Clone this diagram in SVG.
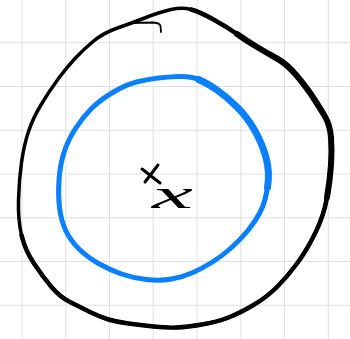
<svg xmlns="http://www.w3.org/2000/svg" width="350" height="339" viewBox="0 0 350 339">
<style>
.grid{stroke:#dfdfdf;stroke-width:1;fill:none}
.ink{fill:none;stroke:#000;stroke-linecap:round;stroke-linejoin:round}
.blue{fill:none;stroke:#0a80ff;stroke-linecap:round;stroke-linejoin:round}
</style>
<rect width="350" height="339" fill="#fff"/>
<g id="grid" class="grid">
<path d="M22,0V339M65.75,0V339M109.5,0V339M153.25,0V339M197,0V339M240.75,0V339M284.5,0V339M328.25,0V339"/>
<path d="M0,42.75H350M0,86.5H350M0,130.25H350M0,174H350M0,217.75H350M0,261.5H350M0,305.25H350"/>
</g>
<g id="outer-circle">
<path class="ink" stroke-width="3.5" d="M117.5,28 Q132,23 146,17.5 Q160,12 171,9.5 Q182,7 191,9.5 Q200,12 213.5,19.5 Q227,27 237,34 Q247,41 257,47 Q267,53 277,58.5 Q287,64 297,76 Q307,88 313.5,98 Q320,108 325,116.5 Q330,125 331,137.5 Q332,150 331,165 Q330,180 327,197.5 Q324,215 315.5,232.5 Q307,250 297,263.5 Q287,277 277,287 Q267,297 253.5,305 Q240,313 228.5,317.5 Q217,322 202,324.5 Q187,327 177,327.5 Q167,328 153.5,326.5 Q140,325 128.5,323.5 Q117,322 108.5,319.5 Q100,317 90,312 Q80,307 70,302 Q60,297 51.5,287 Q43,277 34,263.5 Q25,250 21.5,235 Q18,220 18.5,200 Q19,180 21.5,162.5 Q24,145 28.5,131.5 Q33,118 41.5,104 Q50,90 58.5,78.5 Q67,67 75,58.5 Q83,50 93,41.5 Q103,33 117.5,28 Z"/>
<path class="ink" stroke-width="4.5" d="M191,9.5 Q200,12 213.5,19.5 Q227,27 237,34 Q247,41 257,47"/>
<path class="ink" stroke-width="6" d="M237,34 Q247,41 257,47 Q267,53 277,58.5 Q287,64 297,76 Q307,88 313.5,98 Q320,108 325,116.5 Q330,125 331,137.5 Q332,150 331,165 Q330,180 327,197.5"/>
<path class="ink" stroke-width="4.5" d="M327,197.5 Q324,215 315.5,232.5 Q307,250 297,263.5 Q287,277 277,287 Q267,297 253.5,305 Q240,313 228.5,317.5 Q217,322 202,324.5 Q187,327 177,327.5 Q167,328 153.5,326.5 Q140,325 128.5,323.5 Q117,322 108.5,319.5 Q100,317 90,312 Q80,307 70,302 Q60,297 51.5,287 Q43,277 34,263.5 Q25,250 21.5,235"/>
<path class="ink" stroke-width="1.8" d="M132,23 L152,22.5 Q159.5,22.5 160.5,26 L161,32"/>
</g>
<g id="inner-circle">
<path class="blue" stroke-width="5" d="M138.5,81.5 Q150,79 158.5,78 Q167,77 178.5,76.5 Q190,76 198.5,79.5 Q207,83 217,90 Q227,97 237,107 Q247,117 254.5,130 Q262,143 266,157.5 Q270,172 267.5,187.5 Q265,203 260,212.5 Q255,222 247.5,231 Q240,240 231,248 Q222,256 212.5,262 Q203,268 193,272.5 Q183,277 171.5,279 Q160,281 146.5,279.5 Q133,278 121.5,274 Q110,270 98.5,263.5 Q87,257 78.5,248.5 Q70,240 65.5,230 Q61,220 59.5,207.5 Q58,195 59,180 Q60,165 64,152.5 Q68,140 75.5,128.5 Q83,117 91.5,108.5 Q100,100 113.5,92 Q127,84 138.5,81.5 Z"/>
<path class="blue" stroke-width="7" d="M198.5,79.5 Q207,83 217,90 Q227,97 237,107 Q247,117 254.5,130 Q262,143 266,157.5 Q270,172 267.5,187.5"/>
</g>
<g id="center">
<path class="ink" stroke-width="3" d="M142,169 L160,183 M158,165 L145,182"/>
<text x="152" y="208" font-family="'Liberation Serif', serif" font-style="italic" font-size="40" textLength="41" lengthAdjust="spacingAndGlyphs" fill="#000">x</text>
</g>
</svg>
